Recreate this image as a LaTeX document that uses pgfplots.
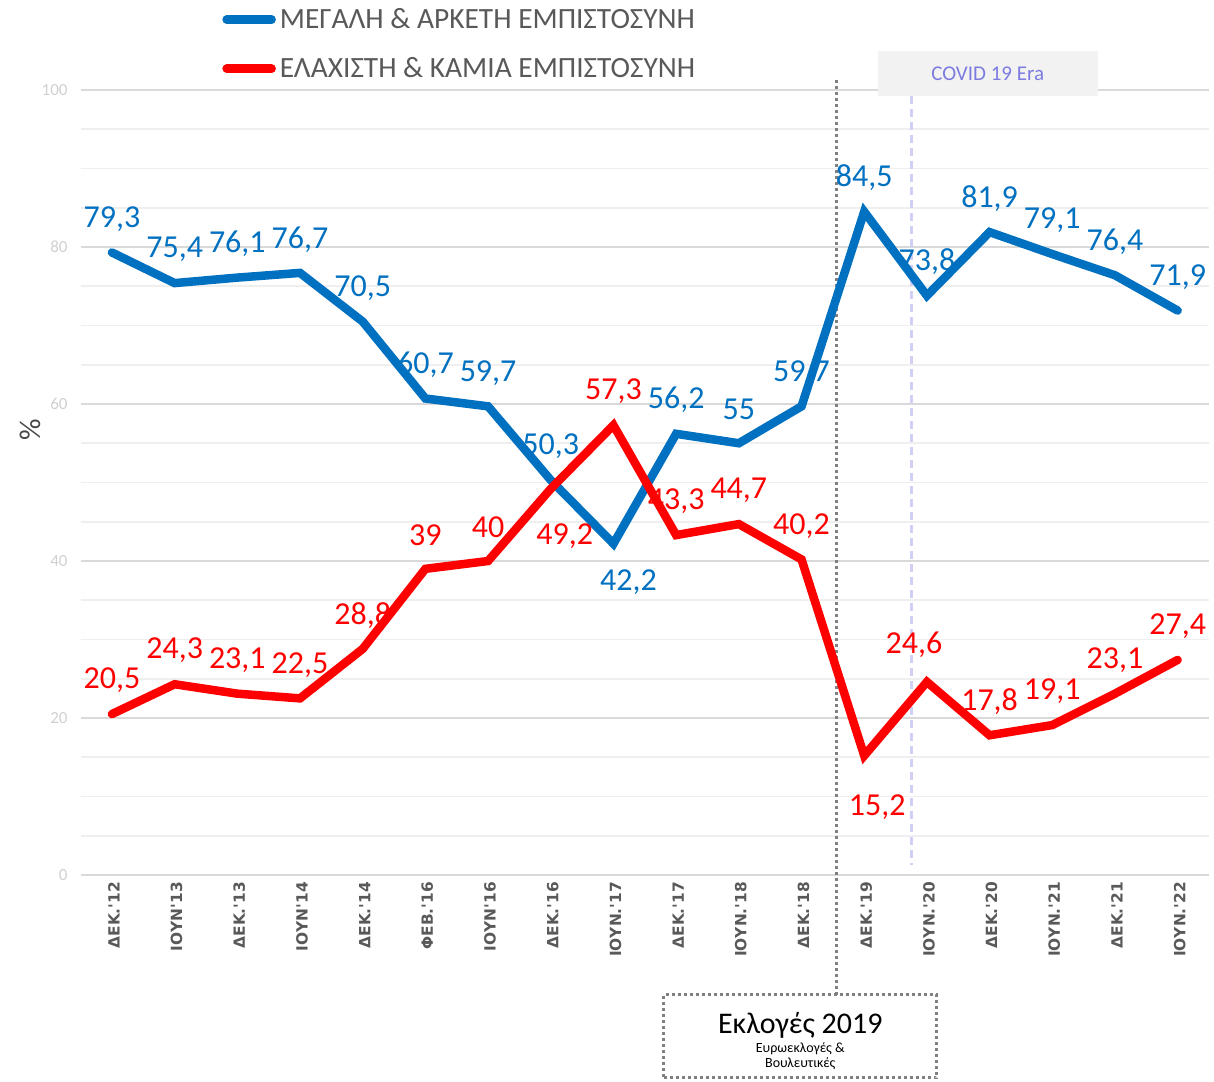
\documentclass[border=0pt]{standalone}
\usepackage{fontspec}
\setmainfont{Carlito}
\newfontfamily\tickf{DejaVu Sans}
\usepackage{pgfplots}
\usepackage{pgfplotstable}
\pgfplotsset{compat=1.18}
\definecolor{cblue}{HTML}{0070C0}
\definecolor{cred}{HTML}{FF0000}
\definecolor{gmaj}{HTML}{D9D9D9}
\definecolor{gmin}{HTML}{EFEFEF}
\definecolor{ytxt}{HTML}{D0D0D0}
\definecolor{xtxt}{HTML}{595959}
\definecolor{covfill}{HTML}{F2F2F2}
\definecolor{covtxt}{HTML}{7B7BE0}
\definecolor{covline}{HTML}{D0D0F5}
\definecolor{dotg}{HTML}{808080}

\pgfplotstableread{
x y
0 79.3
1 75.4
2 76.1
3 76.7
4 70.5
5 60.7
6 59.7
7 50.3
8 42.2
9 56.2
10 55
11 59.7
12 84.5
13 73.8
14 81.9
15 79.1
16 76.4
17 71.9
}\blueT

\pgfplotstableread{
x y
0 20.5
1 24.3
2 23.1
3 22.5
4 28.8
5 39
6 40
7 49.2
8 57.3
9 43.3
10 44.7
11 40.2
12 15.2
13 24.6
14 17.8
15 19.1
16 23.1
17 27.4
}\redT

\pgfplotsset{
  lbl/.style n args={3}{draw=none, forget plot, mark=none, nodes near coords,
    every node near coord/.append style={anchor=center, xshift=#1, yshift=#2, font=\fontsize{16}{18}\selectfont, text=#3}},
}

\begin{document}
\begin{tikzpicture}
\begin{axis}[
  at={(40.3pt,103pt)}, anchor=south west,
  scale only axis, width=564.2pt, height=392.5pt,
  xmin=-0.5, xmax=17.5, ymin=0, ymax=100,
  clip=false,
  axis line style={draw=none},
  tick style={draw=none},
  xtick={0,...,17},
  xticklabels={ΔΕΚ.'12, ΙΟΥΝ'13, ΔΕΚ.'13, ΙΟΥΝ'14, ΔΕΚ.'14, ΦΕΒ.'16, ΙΟΥΝ'16, ΔΕΚ.'16, ΙΟΥΝ.'17, ΔΕΚ.'17, ΙΟΥΝ.'18, ΔΕΚ.'18, ΔΕΚ.'19, ΙΟΥΝ.'20, ΔΕΚ.'20, ΙΟΥΝ.'21, ΔΕΚ.'21, ΙΟΥΝ.'22},
  xticklabel style={rotate=90, anchor=east, font=\tickf\bfseries\fontsize{7.7}{8.5}\selectfont, text=xtxt, yshift=-1pt},
  ytick={0,20,...,100},
  minor ytick={5,10,...,95},
  ymajorgrids, yminorgrids,
  major grid style={gmaj, line width=1pt},
  minor grid style={gmin, line width=0.8pt},
  yticklabel style={font=\fontsize{8.5}{10}\selectfont, text=ytxt, xshift=-3pt},
  /pgf/number format/assume math mode=true,
  /pgf/number format/use comma,
  /pgf/number format/1000 sep={},
  ylabel={\%},
  every axis y label/.style={at={(axis description cs:-0.0448,0.567)}, rotate=90, anchor=center, font=\fontsize{15}{17}\selectfont, text=xtxt!80!black},
  legend style={draw=none, fill=none, at={(axis description cs:0.1253,1.11)}, anchor=north west, inner sep=0pt, row sep=9pt, font=\fontsize{14.7}{16}\selectfont, text=xtxt, cells={anchor=west}},
  legend image code/.code={\draw[#1, line cap=round] (0pt,0pt) -- (22.5pt,0pt);},
]
% COVID box and line
\fill[covfill] (axis cs:12.22,99.2) rectangle (axis cs:15.73,105);
\node[text=covtxt, font=\fontsize{10.5}{12}\selectfont] at (axis cs:13.97,102.1) {COVID 19 Era};
\draw[covline, line width=1.5pt, dash pattern=on 4pt off 2.5pt] (axis cs:12.76,99.2) -- (axis cs:12.76,1.3);
% election line
\draw[dotg, line width=1.5pt, dash pattern=on 1.5pt off 1.5pt] (axis cs:11.55,101.3) -- (axis cs:11.55,-15.3);
\node[draw=dotg, line width=1.5pt, dash pattern=on 1.5pt off 1.5pt, minimum width=136.5pt, minimum height=41.5pt, inner sep=0pt, fill=white] at (axis cs:10.98,-20.57) {};
\node[inner sep=0pt, align=center] at (axis cs:10.98,-21.3)
  {{\fontsize{15}{16}\selectfont Εκλογές 2019}\\[1.5pt]
   {\fontsize{7}{7.5}\selectfont\begin{tabular}{@{}c@{}}Ευρωεκλογές \&\\Βουλευτικές\end{tabular}}};

\addplot[cblue, line width=4.25pt, line cap=round, mark=none] table[x=x,y=y] {\blueT};
\addlegendentry{ΜΕΓΑΛΗ \& ΑΡΚΕΤΗ ΕΜΠΙΣΤΟΣΥΝΗ}
\addplot[cred, line width=4.25pt, line cap=round, mark=none] table[x=x,y=y] {\redT};
\addlegendentry{ΕΛΑΧΙΣΤΗ \& ΚΑΜΙΑ ΕΜΠΙΣΤΟΣΥΝΗ}

% data labels
\addplot[lbl={0pt}{16.8pt}{cblue}] coordinates {(0,79.3) (1,75.4) (2,76.1) (3,76.7) (4,70.5) (5,60.7) (6,59.7) (7,50.3) (9,56.2) (10,55) (11,59.7) (12,84.5) (13,73.8) (14,81.9) (15,79.1) (16,76.4) (17,71.9)};
\addplot[lbl={7.5pt}{-19pt}{cblue}] coordinates {(8,42.2)};
\addplot[lbl={0pt}{16.8pt}{cred}] coordinates {(0,20.5) (1,24.3) (2,23.1) (3,22.5) (4,28.8) (5,39) (6,40) (8,57.3) (9,43.3) (10,44.7) (11,40.2) (14,17.8) (15,19.1) (16,23.1) (17,27.4)};
\addplot[lbl={7pt}{-23.5pt}{cred}] coordinates {(7,49.2)};
\addplot[lbl={6.5pt}{-25.5pt}{cred}] coordinates {(12,15.2)};
\addplot[lbl={-6.5pt}{18.5pt}{cred}] coordinates {(13,24.6)};
\end{axis}
\pgfresetboundingbox
\path (0,0) rectangle (607pt,540.5pt);
\end{tikzpicture}
\end{document}
